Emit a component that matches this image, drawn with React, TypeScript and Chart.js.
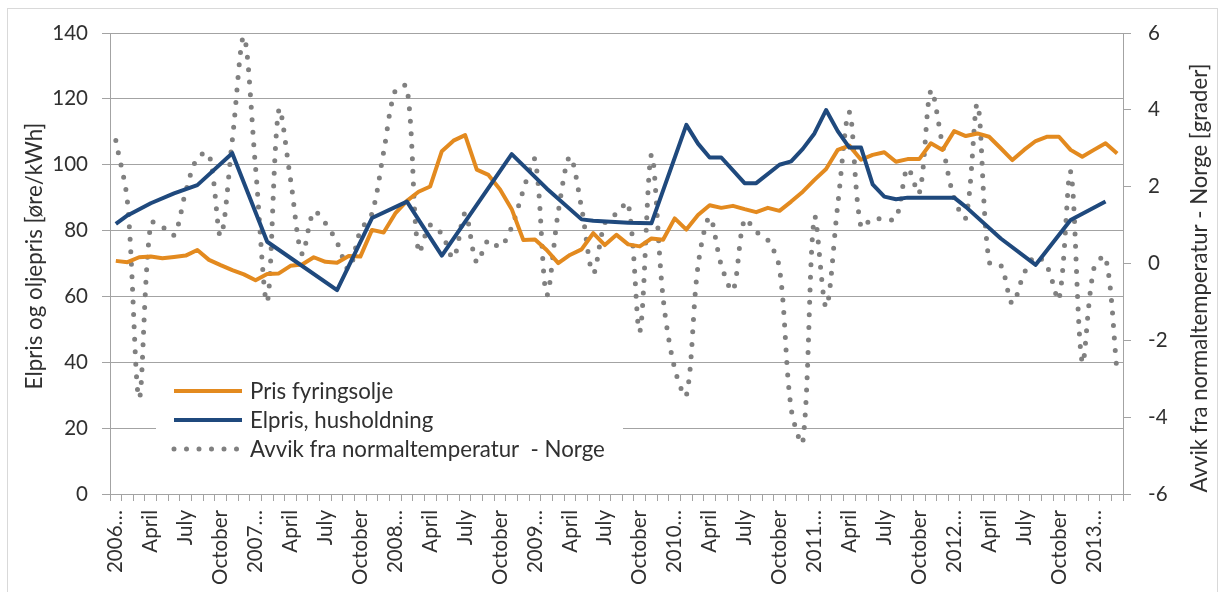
import React, { useEffect, useRef } from "react";
import { Chart, registerables } from "chart.js";

Chart.register(...registerables);

// ---------- data ----------
const years = [2006, 2007, 2008, 2009, 2010, 2011, 2012, 2013];
const monthNames = [
  "January", "February", "March", "April", "May", "June",
  "July", "August", "September", "October", "November", "December",
];
const lastYearMonths = 3; // data runs to March 2013

const categories: string[] = [];
years.forEach((y, yi) => {
  const n = yi === years.length - 1 ? lastYearMonths : 12;
  for (let m = 0; m < n; m++) categories.push(m === 0 ? `${y}…` : monthNames[m]);
});

const seriesNames = [
  "Pris fyringsolje",
  "Elpris, husholdning",
  "Avvik fra normaltemperatur  - Norge",
];

// heating oil price, øre/kWh (monthly)
const oilPrice = [
  70.8, 70.4, 71.9, 72.1, 71.6, 72.0, 72.4, 74.1, 71.1, 69.5, 68.0, 66.7,
  64.9, 66.8, 67.0, 69.3, 69.7, 71.9, 70.5, 70.2, 72.3, 72.1, 80.2, 79.4,
  85.2, 89.0, 91.8, 93.4, 104.1, 107.3, 109.0, 98.5, 96.9, 92.5, 86.5, 77.1,
  77.3, 74.1, 70.1, 72.6, 74.3, 79.2, 75.6, 78.7, 75.8, 75.2, 77.6, 77.2,
  83.7, 80.3, 84.7, 87.7, 86.9, 87.5, 86.5, 85.6, 86.9, 86.0, 88.8, 91.8,
  95.4, 98.7, 104.5, 105.8, 101.5, 103.0, 103.8, 100.9, 101.7, 101.7, 106.5, 104.5,
  110.2, 108.7, 109.5, 108.5, 105.0, 101.4, 104.5, 107.2, 108.5, 108.5, 104.5, 102.4,
  104.5, 106.5, 103.4,
];

// household electricity price, øre/kWh (null = no observation, line spans gap)
const elPrice: (number | null)[] = [
  82.0, 84.6, null, 88.3, null, 91.3, null, 93.8, null, null, 103.5, null,
  null, 76.6, null, null, null, null, null, 61.9, null, null, 83.8, null,
  null, 88.8, null, null, 72.4, null, null, null, null, null, 103.2, null,
  null, 92.8, null, null, 83.4, 83.0, null, null, 82.4, null, 82.2, null,
  null, 112.1, 106.4, 102.2, 102.2, null, 94.4, 94.4, null, 100.0, 101.0, 104.8,
  109.5, 116.6, 110.2, 105.2, 105.2, 94.0, 90.3, 89.5, 90.0, null, null, null,
  90.0, 87.2, null, null, 77.6, null, null, 69.6, null, null, 83.2, null,
  null, 88.8, null,
];

// deviation from normal temperature, Norway, degrees
const tempDev = [
  3.2, 1.6, -3.5, 1.05, 0.95, 0.74, 1.87, 2.75, 2.85, 0.72, 3.2, 5.9,
  2.5, -1.0, 4.0, 2.2, 0.25, 1.35, 1.05, 0.55, -0.15, 0.85, 1.3, 2.9,
  4.5, 4.6, 0.3, 1.0, 0.76, 0.15, 1.3, 0.03, 0.61, 0.43, 0.95, 1.91,
  2.7, -0.81, 1.35, 2.78, 1.45, -0.25, 1.05, 1.3, 1.57, -1.77, 2.83, -0.89,
  -2.74, -3.44, -0.06, 1.2, -0.04, -0.7, 1.15, 0.83, 0.61, -0.13, -3.78, -4.65,
  1.2, -1.13, 1.52, 3.94, 0.95, 1.17, 1.15, 1.18, 2.48, 1.83, 4.5, 3.09,
  1.7, 1.19, 4.15, 0.04, -0.04, -1.04, -0.26, 0.19, -0.09, -0.93, 2.39, -2.57,
  -0.13, 0.17, -2.85,
];

const leftTitle = "Elpris og oljepris [øre/kWh]";
const rightTitle = "Avvik fra normaltemperatur - Norge [grader]";

// ---------- styling ----------
const FONT = "Lato, 'Open Sans', sans-serif";
const TEXT = "#303030";
const GRID = "#a3a3a3";
const ORANGE = "#E38A1F";
const BLUE = "#1F497D";
const GRAY = "#808080";

const W = 1222;
const H = 592;

function fitSize(text: string, target: number): number {
  const c = document.createElement("canvas").getContext("2d");
  if (!c) return 20;
  c.font = `100px ${FONT}`;
  const w = c.measureText(text).width;
  return w > 0 ? (100 * target) / w : 20;
}

export default function App() {
  const ref = useRef<HTMLCanvasElement | null>(null);

  useEffect(() => {
    document.body.style.margin = "0";
    const canvas = ref.current;
    if (!canvas) return;

    const tickSize = fitSize("October", 75);
    const legendSize = fitSize(seriesNames[2], 355);
    const leftTitleSize = fitSize(leftTitle, 267);
    const rightTitleSize = fitSize(rightTitle, 429);

    const drawVertical = (ctx: CanvasRenderingContext2D, text: string, size: number, x: number, y: number) => {
      ctx.save();
      ctx.fillStyle = TEXT;
      ctx.font = `${size}px ${FONT}`;
      ctx.textAlign = "center";
      ctx.textBaseline = "middle";
      ctx.translate(x, y);
      ctx.rotate(-Math.PI / 2);
      ctx.fillText(text, 0, 0);
      ctx.restore();
    };

    const overlayPlugin = {
      id: "overlay",
      afterDatasetsDraw(chart: any) {
        const ctx = chart.ctx as CanvasRenderingContext2D;
        ctx.save();
        ctx.fillStyle = "#ffffff";
        ctx.fillRect(156, 368, 467, 104);
        chart.data.datasets.forEach((ds: any, i: number) => {
          const y = 391 + i * 29;
          ctx.beginPath();
          ctx.strokeStyle = ds.borderColor;
          ctx.lineWidth = ds.borderWidth;
          ctx.setLineDash(ds.borderDash || []);
          ctx.lineCap = ds.borderCapStyle || "butt";
          ctx.moveTo(174, y);
          ctx.lineTo(242, y);
          ctx.stroke();
          ctx.setLineDash([]);
          ctx.fillStyle = TEXT;
          ctx.font = `${legendSize}px ${FONT}`;
          ctx.textAlign = "left";
          ctx.textBaseline = "middle";
          ctx.fillText(ds.label, 250, y + 1);
        });
        ctx.restore();
      },
      afterDraw(chart: any) {
        const ctx = chart.ctx as CanvasRenderingContext2D;
        drawVertical(ctx, leftTitle, leftTitleSize, 35, 256);
        drawVertical(ctx, rightTitle, rightTitleSize, 1200, 278);
      },
    };

    const chart = new Chart(canvas, {
      type: "line",
      data: {
        labels: categories,
        datasets: [
          {
            label: seriesNames[0],
            data: oilPrice,
            yAxisID: "y",
            borderColor: ORANGE,
            backgroundColor: ORANGE,
            borderWidth: 4,
            pointRadius: 0,
            tension: 0,
            borderJoinStyle: "round",
            order: 2,
          },
          {
            label: seriesNames[1],
            data: elPrice,
            yAxisID: "y",
            borderColor: BLUE,
            backgroundColor: BLUE,
            borderWidth: 4,
            pointRadius: 0,
            tension: 0,
            spanGaps: true,
            borderJoinStyle: "round",
            order: 1,
          },
          {
            label: seriesNames[2],
            data: tempDev,
            yAxisID: "y1",
            borderColor: GRAY,
            backgroundColor: GRAY,
            borderWidth: 5,
            borderDash: [0, 12.5],
            borderCapStyle: "round",
            pointRadius: 0,
            tension: 0.33,
            order: 3,
          },
        ],
      },
      options: {
        responsive: false,
        animation: false,
        devicePixelRatio: 1,
        layout: { padding: { top: 33, left: 0, right: 0, bottom: 0 } },
        plugins: {
          legend: { display: false },
          tooltip: { enabled: false },
          title: { display: false },
        },
        scales: {
          x: {
            type: "category",
            offset: true,
            grid: {
              offset: true,
              drawOnChartArea: false,
              drawTicks: true,
              tickLength: 7,
              color: GRID,
            },
            border: { display: true, color: GRID },
            ticks: {
              autoSkip: false,
              minRotation: 90,
              maxRotation: 90,
              padding: 9,
              color: TEXT,
              font: { family: FONT, size: tickSize },
              callback: (_v: any, index: number) =>
                index % 3 === 0 ? categories[index] : "",
            },
            afterFit: (scale: any) => {
              scale.height = 98;
            },
          },
          y: {
            type: "linear",
            position: "left",
            min: 0,
            max: 140,
            grid: { color: GRID, tickLength: 8, drawTicks: true },
            border: { display: true, color: GRID },
            ticks: {
              stepSize: 20,
              padding: 14,
              color: TEXT,
              font: { family: FONT, size: tickSize },
            },
            afterFit: (scale: any) => {
              scale.width = 110;
            },
          },
          y1: {
            type: "linear",
            position: "right",
            min: -6,
            max: 6,
            grid: { drawOnChartArea: false, color: GRID, tickLength: 8 },
            border: { display: true, color: GRID },
            ticks: {
              stepSize: 2,
              padding: 17,
              color: TEXT,
              font: { family: FONT, size: tickSize },
            },
            afterFit: (scale: any) => {
              scale.width = 99;
            },
          },
        },
      },
      plugins: [overlayPlugin],
    });
    return () => chart.destroy();
  }, []);

  return (
    <div style={{ position: "relative", width: W, height: H, overflow: "hidden", background: "#fff" }}>
      <canvas ref={ref} width={W} height={H} style={{ display: "block", width: W, height: H }} />
      <div
        style={{
          position: "absolute",
          left: 7,
          top: 8,
          width: 1211,
          height: 600,
          border: "1px solid #d9d9d9",
          pointerEvents: "none",
          boxSizing: "border-box",
        }}
      />
    </div>
  );
}
